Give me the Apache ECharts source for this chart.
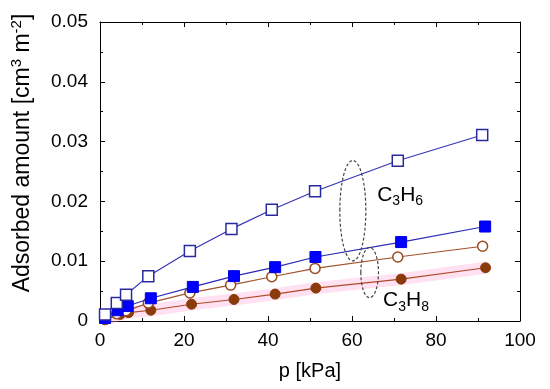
<!DOCTYPE html>
<html><head><meta charset="utf-8">
<script src="https://cdn.jsdelivr.net/npm/echarts@6/dist/echarts.min.js"></script>
<style>html,body{margin:0;padding:0;background:#fff}#c{width:550px;height:389px}</style>
</head><body><div id="c"></div>
<script>
// C3H6 open squares
const openSqX = [1.2, 4.0, 6.2, 11.5, 21.4, 31.3, 40.9, 51.2, 70.9, 91.0];
const openSqY = [0.0011, 0.0030, 0.0044, 0.0075, 0.0117, 0.0154, 0.0186, 0.0217, 0.0268, 0.0311];
// C3H6 filled squares
const fillSqX = [1.2, 4.2, 6.6, 12.1, 22.1, 31.9, 41.7, 51.3, 71.7, 91.7];
const fillSqY = [0.0005, 0.0018, 0.0025, 0.0038, 0.0057, 0.0075, 0.0090, 0.0107, 0.0132, 0.0158];
// C3H8 open circles
const openCiX = [1.2, 4.0, 6.2, 11.5, 21.4, 31.1, 40.9, 51.2, 70.9, 91.1];
const openCiY = [0.0003, 0.0012, 0.0017, 0.0030, 0.0047, 0.0060, 0.0074, 0.0088, 0.0107, 0.0125];
// C3H8 filled circles
const fillCiX = [1.2, 4.8, 6.8, 12.1, 21.8, 31.9, 41.7, 51.4, 71.7, 91.8];
const fillCiY = [0.0002, 0.0011, 0.0014, 0.0018, 0.0028, 0.0036, 0.0045, 0.0055, 0.0070, 0.0089];

const xTicks = [0, 20, 40, 60, 80, 100];
const yTicks = [0, 0.01, 0.02, 0.03, 0.04, 0.05];

const pair = (xs, ys) => xs.map((x, i) => [x, ys[i]]);
const FONT = 'Liberation Sans, Arial, sans-serif';

const chart = echarts.init(document.getElementById('c'), null, {renderer: 'canvas'});

const axisCommon = {
  axisLine: {show: true, onZero: false, lineStyle: {color: '#000', width: 1}},
  axisTick: {show: true, inside: true, length: 5, lineStyle: {color: '#000'}},
  minorTick: {show: true, splitNumber: 2, length: 3, lineStyle: {color: '#000'}},
  splitLine: {show: false}
};

chart.setOption({
  animation: false,
  backgroundColor: '#fff',
  grid: {left: 100, right: 30, top: 22, bottom: 68},
  xAxis: [
    Object.assign({type: 'value', min: 0, max: 100, interval: 20, position: 'bottom',
      axisLabel: {color: '#000', fontSize: 19, fontFamily: FONT, margin: 10,
        formatter: v => xTicks.includes(v) ? String(v) : ''},
      name: 'p [kPa]', nameLocation: 'middle', nameGap: 40,
      nameTextStyle: {color: '#000', fontSize: 20, fontFamily: FONT}}, axisCommon),
    Object.assign({type: 'value', min: 0, max: 100, interval: 20, position: 'top',
      axisLabel: {show: false}}, axisCommon)
  ],
  yAxis: [
    Object.assign({type: 'value', min: 0, max: 0.05, interval: 0.01, position: 'left',
      axisLabel: {color: '#000', fontSize: 19, fontFamily: FONT, margin: 12,
        formatter: v => { const t = yTicks.find(k => Math.abs(k - v) < 1e-9); return t === undefined ? '' : (t === 0 ? '0' : t.toFixed(2)); }}}, axisCommon),
    Object.assign({type: 'value', min: 0, max: 0.05, interval: 0.01, position: 'right',
      axisLabel: {show: false}}, axisCommon)
  ],
  series: [
    {type: 'line', data: pair(fillCiX, fillCiY), symbol: 'none', silent: true,
      lineStyle: {color: 'rgba(255,170,215,0.35)', width: 12}, z: 1},
    {type: 'line', data: pair(fillCiX, fillCiY), symbol: 'circle', symbolSize: 10,
      lineStyle: {color: '#b04a2a', width: 1.2},
      itemStyle: {color: '#8b3a0a', borderColor: '#8b3a0a', borderWidth: 1}, z: 2},
    {type: 'line', data: pair(openCiX, openCiY), symbol: 'circle', symbolSize: 10,
      lineStyle: {color: '#a0522d', width: 1.2},
      itemStyle: {color: '#fff', borderColor: '#9a4a20', borderWidth: 1.5}, z: 3},
    {type: 'line', data: pair(fillSqX, fillSqY), symbol: 'rect', symbolSize: 11,
      lineStyle: {color: '#2a2ab5', width: 1.2},
      itemStyle: {color: '#0000ff', borderColor: '#0000e0', borderWidth: 1}, z: 4},
    {type: 'line', data: pair(openSqX, openSqY), symbol: 'rect', symbolSize: 11,
      lineStyle: {color: '#3535b5', width: 1.2},
      itemStyle: {color: '#fff', borderColor: '#2a2aa0', borderWidth: 1.5}, z: 5}
  ]
});

// Annotations positioned in data coordinates
const ellipses = [
  {cx: 60.2, cy: 0.01845, rx: 3.1, ry: 0.0084},
  {cx: 64.2, cy: 0.0081, rx: 2.1, ry: 0.0042}
];
const labels = [
  {x: 66.0, y: 0.0210, text: '{m|C}{s|3}{m|H}{s|6}'},
  {x: 67.4, y: 0.0034, text: '{m|C}{s|3}{m|H}{s|8}'}
];
const px = (x, y) => chart.convertToPixel({xAxisIndex: 0, yAxisIndex: 0}, [x, y]);
const graphics = [];
ellipses.forEach(e => {
  const c = px(e.cx, e.cy);
  const r = px(e.cx + e.rx, e.cy + e.ry);
  graphics.push({type: 'ellipse', shape: {cx: c[0], cy: c[1], rx: r[0] - c[0], ry: c[1] - r[1]},
    style: {fill: 'none', stroke: '#444', lineWidth: 1.2, lineDash: [3, 2]}, z: 10});
});
labels.forEach(l => {
  const p = px(l.x, l.y);
  graphics.push({type: 'text', x: p[0], y: p[1], z: 10,
    style: {text: l.text, verticalAlign: 'middle',
      rich: {m: {fontSize: 21, fontFamily: FONT, fill: '#000', lineHeight: 26, verticalAlign: 'middle'},
             s: {fontSize: 14, fontFamily: FONT, fill: '#000', lineHeight: 14, verticalAlign: 'bottom'}}}});
});
// Y-axis title (rotated)
graphics.push({type: 'text', x: 23, y: 153, rotation: Math.PI / 2, z: 10,
  style: {text: '{n|Adsorbed amount [cm}{sup|3}{n| m}{sup|-2}{n|]}', align: 'center', verticalAlign: 'middle',
    rich: {n: {fontSize: 23, fontFamily: FONT, fill: '#000', lineHeight: 28, verticalAlign: 'middle'},
           sup: {fontSize: 15, fontFamily: FONT, fill: '#000', lineHeight: 15, verticalAlign: 'top'}}}});
chart.setOption({graphic: graphics});
</script></body></html>
